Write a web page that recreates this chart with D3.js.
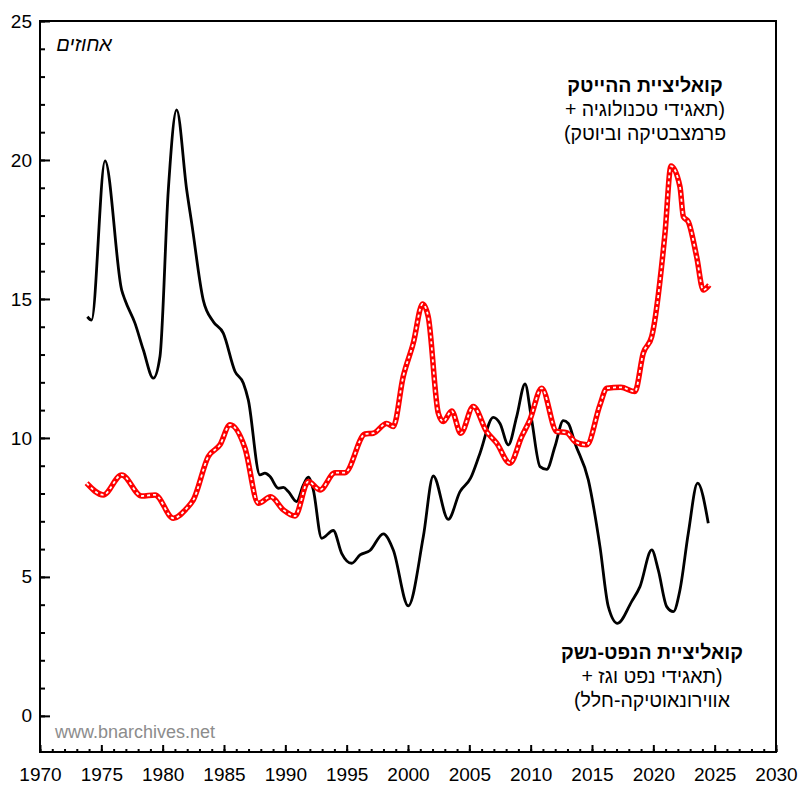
<!DOCTYPE html>
<html>
<head>
<meta charset="utf-8">
<script src="https://cdn.jsdelivr.net/npm/d3@7"></script>
<style>
  body { margin: 0; background: #fff; }
  text { font-family: Arial, 'Liberation Sans', sans-serif; }
</style>
</head>
<body>
<div id="chart"></div>
<script>
'use strict';
// oil & arms coalition (black line)
var oilYears = [1973.86, 1974.2, 1975.3, 1976.66, 1976.93, 1977.74, 1978.42, 1979.24, 1979.78, 1980.46,
  1981.14, 1981.96, 1982.37, 1983.31, 1984.13, 1984.94, 1985.9, 1986.58, 1986.98, 1987.93,
  1988.34, 1988.75, 1989.43, 1989.84, 1990.24, 1990.92, 1991.47, 1991.87, 1992.28, 1992.96,
  1993.91, 1994.59, 1995.41, 1996.09, 1996.9, 1997.99, 1998.8, 2000.02, 2001.25, 2002.06,
  2003.28, 2004.24, 2005.1, 2005.87, 2006.95, 2007.5, 2008.18, 2008.86, 2009.54, 2010.08,
  2010.76, 2011.31, 2011.98, 2012.66, 2013.07, 2013.61, 2014.7, 2015.65, 2016.33, 2017.08,
  2018.23, 2018.91, 2019.87, 2020.4, 2021.09, 2021.63, 2022.17, 2022.85, 2023.61, 2024.48];
var oilValues = [14.36, 14.24, 19.97, 15.32, 14.96, 14.13, 13.17, 12.15, 12.93, 18.92,
  21.8, 18.92, 17.72, 14.96, 14.18, 13.77, 12.39, 11.97, 11.37, 8.67,
  8.73, 8.61, 8.19, 8.22, 8.07, 7.71, 8.31, 8.59, 8.13, 6.39,
  6.67, 5.85, 5.49, 5.79, 5.95, 6.55, 5.97, 3.96, 6.45, 8.63,
  7.07, 8.07, 8.55, 9.45, 10.74, 10.52, 9.75, 10.77, 11.94, 10.65,
  8.97, 8.87, 9.69, 10.62, 10.52, 9.81, 8.49, 6.09, 3.93, 3.33,
  4.11, 4.65, 5.97, 5.25, 3.93, 3.75, 4.53, 6.57, 8.37, 6.93];

// hi-tech coalition (red dashed line)
var techYears = [1973.8, 1975.16, 1976.66, 1978.29, 1979.38, 1980.87, 1981.96, 1982.5, 1983.72, 1984.67,
  1985.49, 1986.71, 1987.8, 1988.8, 1989.84, 1990.79, 1991.87, 1992.83, 1994.05, 1994.86,
  1996.49, 1997.17, 1998.26, 1998.8, 1999.61, 2000.43, 2001.19, 2001.65, 2002.47, 2002.88,
  2003.56, 2004.3, 2005.32, 2006.41, 2007.23, 2008.31, 2009.27, 2009.94, 2010.9, 2012.12,
  2012.93, 2013.61, 2014.57, 2015.65, 2016.2, 2017.35, 2018.5, 2019.18, 2019.87, 2020.95,
  2021.44, 2022.17, 2022.45, 2022.85, 2023.53, 2024.07, 2024.56];
var techValues = [8.37, 7.95, 8.67, 7.91, 7.95, 7.11, 7.47, 7.77, 9.33, 9.75,
  10.47, 9.63, 7.65, 7.88, 7.41, 7.19, 8.43, 8.13, 8.75, 8.75,
  10.14, 10.17, 10.52, 10.41, 12.21, 13.41, 14.82, 14.36, 10.89, 10.59,
  10.97, 10.17, 11.13, 10.23, 9.81, 9.09, 10.05, 10.65, 11.79, 10.23,
  10.19, 9.87, 9.75, 11.19, 11.79, 11.82, 11.67, 13.05, 13.65, 17.36,
  19.78, 19.04, 17.96, 17.78, 16.52, 15.32, 15.5];

var yTicks = [0, 5, 10, 15, 20, 25];
var xTicks = [1970, 1975, 1980, 1985, 1990, 1995, 2000, 2005, 2010, 2015, 2020, 2025, 2030];

var techLabel = ['קואליציית ההייטק', '(תאגידי טכנולוגיה +', 'פרמצבטיקה וביוטק)'];
var oilLabel = ['קואליציית הנפט-נשק', '(תאגידי נפט וגז +', 'אווירונאוטיקה-חלל)'];

var width = 798, height = 786;
var plot = {left: 40, right: 776, top: 21, bottom: 752};

var svg = d3.select('#chart').append('svg')
    .attr('width', width)
    .attr('height', height);

// scales
var x = d3.scaleLinear().domain([1970, 2030]).range([plot.left, plot.right]);
var y = d3.scaleLinear().domain([-1.3, 25]).range([plot.bottom, plot.top]);

// minor ticks, every year / every unit
svg.append('g')
    .attr('transform', 'translate(0,' + plot.bottom + ')')
    .call(d3.axisBottom(x).tickValues(d3.range(1970, 2031, 1)).tickSize(-3).tickFormat(''))
    .call(function(g) { g.select('.domain').remove(); })
    .selectAll('line').attr('stroke-width', 2);

svg.append('g')
    .attr('transform', 'translate(' + plot.left + ',0)')
    .call(d3.axisLeft(y).tickValues(d3.range(0, 26, 1)).tickSize(-5).tickFormat(''))
    .call(function(g) { g.select('.domain').remove(); })
    .selectAll('line').attr('stroke-width', 2);

// major ticks with labels
var xAxis = svg.append('g')
    .attr('transform', 'translate(0,' + plot.bottom + ')')
    .call(d3.axisBottom(x).tickValues(xTicks).tickSize(-7).tickPadding(16).tickFormat(d3.format('d')));
xAxis.select('.domain').remove();
xAxis.selectAll('line').attr('stroke-width', 2);
xAxis.selectAll('text').attr('font-size', 19).attr('fill', '#000');

var yAxis = svg.append('g')
    .attr('transform', 'translate(' + plot.left + ',0)')
    .call(d3.axisLeft(y).tickValues(yTicks).tickSize(-10).tickPadding(8));
yAxis.select('.domain').remove();
yAxis.selectAll('line').attr('stroke-width', 2);
yAxis.selectAll('text').attr('font-size', 19).attr('fill', '#000');

// frame
svg.append('rect')
    .attr('x', plot.left)
    .attr('y', plot.top)
    .attr('width', plot.right - plot.left)
    .attr('height', plot.bottom - plot.top)
    .attr('fill', 'none')
    .attr('stroke', '#000')
    .attr('stroke-width', 2);

// lines
var line = d3.line()
    .x(function(d) { return x(d[0]); })
    .y(function(d) { return y(d[1]); })
    .curve(d3.curveMonotoneX);

var oilData = d3.zip(oilYears, oilValues);
var techData = d3.zip(techYears, techValues);

svg.append('path')
    .datum(oilData)
    .attr('d', line)
    .attr('fill', 'none')
    .attr('stroke', '#000')
    .attr('stroke-width', 2.8);

svg.append('path')
    .datum(techData)
    .attr('d', line)
    .attr('fill', 'none')
    .attr('stroke', '#ff0000')
    .attr('stroke-width', 5.5);

svg.append('path')
    .datum(techData)
    .attr('d', line)
    .attr('fill', 'none')
    .attr('stroke', '#fff')
    .attr('stroke-width', 1.8)
    .attr('stroke-dasharray', '3,3');

// unit label
svg.append('text')
    .attr('x', 84)
    .attr('y', 51)
    .attr('text-anchor', 'middle')
    .attr('direction', 'rtl')
    .attr('font-size', 20)
    .attr('font-style', 'italic')
    .text('אחוזים');

// series labels
function addLabel(lines, cx, y0) {
  lines.forEach(function(t, i) {
    svg.append('text')
        .attr('x', cx)
        .attr('y', y0 + i * 24)
        .attr('text-anchor', 'middle')
        .attr('direction', 'rtl')
        .attr('font-size', 19.5)
        .attr('font-weight', i === 0 ? 'bold' : 'normal')
        .text(t);
  });
}
addLabel(techLabel, 645, 92);
addLabel(oilLabel, 652, 659);

// watermark
svg.append('text')
    .attr('x', 55)
    .attr('y', 738)
    .attr('font-size', 18)
    .attr('fill', '#8c8c8c')
    .text('www.bnarchives.net');
</script>
</body>
</html>
